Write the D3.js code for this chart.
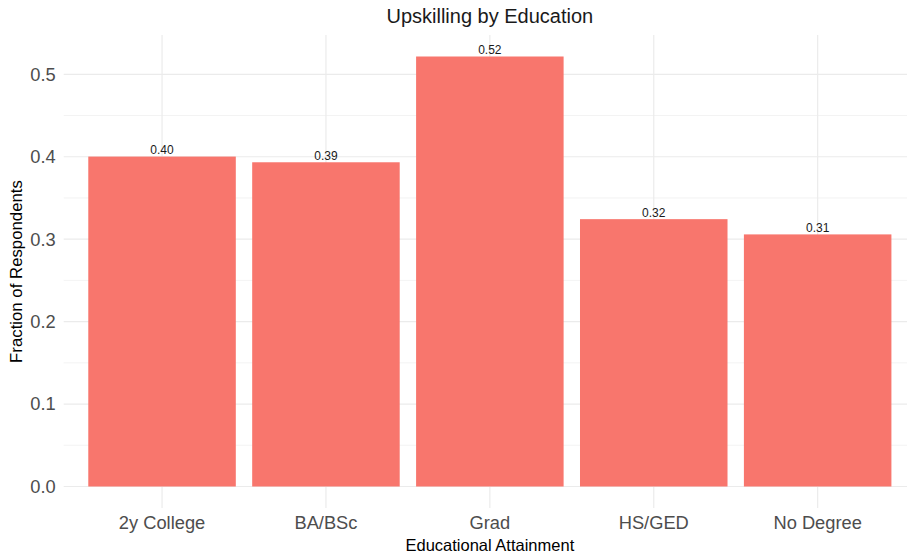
<!DOCTYPE html>
<html>
<head>
<meta charset="utf-8">
<script src="https://cdn.jsdelivr.net/npm/d3@7"></script>
<style>
  body { margin: 0; background: #fff; }
  text { font-family: "Liberation Sans", Arial, sans-serif; }
</style>
</head>
<body>
<div id="chart"></div>
<script>
// data
var categories = ["2y College", "BA/BSc", "Grad", "HS/GED", "No Degree"];
var fractions = [0.4002, 0.3933, 0.5216, 0.3243, 0.3058];
var yTicks = [0, 0.1, 0.2, 0.3, 0.4, 0.5];
var yMinor = [0.05, 0.15, 0.25, 0.35, 0.45];

var W = 907, H = 556;
var margin = {top: 35, right: -9, bottom: 48, left: 63.7},
    width = W - margin.left - margin.right,
    height = H - margin.top - margin.bottom;

var svg = d3.select("#chart")
  .append("svg")
    .attr("width", W)
    .attr("height", H)
  .append("g")
    .attr("transform", "translate(" + margin.left + "," + margin.top + ")");

var maxV = d3.max(fractions);
var pad = maxV * 0.05;

var x = d3.scaleBand()
    .domain(categories)
    .range([0, width])
    .paddingInner(0.1)
    .paddingOuter(0.15);

var y = d3.scaleLinear()
    .domain([-pad, maxV + pad])
    .range([height, 0]);

// grid
svg.selectAll(".minor")
  .data(yMinor)
  .enter().append("line")
    .attr("x1", 0).attr("x2", width)
    .attr("y1", function(d) { return y(d); })
    .attr("y2", function(d) { return y(d); })
    .attr("stroke", "#ebebeb")
    .attr("stroke-width", 0.6);

svg.selectAll(".major")
  .data(yTicks)
  .enter().append("line")
    .attr("x1", 0).attr("x2", width)
    .attr("y1", function(d) { return y(d); })
    .attr("y2", function(d) { return y(d); })
    .attr("stroke", "#ebebeb")
    .attr("stroke-width", 1.2);

svg.selectAll(".vgrid")
  .data(categories)
  .enter().append("line")
    .attr("x1", function(d) { return x(d) + x.bandwidth() / 2; })
    .attr("x2", function(d) { return x(d) + x.bandwidth() / 2; })
    .attr("y1", 0).attr("y2", height)
    .attr("stroke", "#ebebeb")
    .attr("stroke-width", 1.2);

// bars
svg.selectAll("rect")
  .data(fractions)
  .enter().append("rect")
    .attr("x", function(d, i) { return x(categories[i]); })
    .attr("y", function(d) { return y(d); })
    .attr("width", x.bandwidth())
    .attr("height", function(d) { return y(0) - y(d); })
    .style("fill", "#f8766d");

svg.selectAll(".lbl")
  .data(fractions)
  .enter().append("text")
    .attr("x", function(d, i) { return x(categories[i]) + x.bandwidth() / 2; })
    .attr("y", function(d) { return y(d) - 2.5; })
    .attr("text-anchor", "middle")
    .style("font-size", "12px")
    .style("fill", "#1a1a1a")
    .text(function(d) { return d3.format(".2f")(d); });

// axes
var yAxis = svg.append("g")
    .call(d3.axisLeft(y).tickValues(yTicks).tickFormat(d3.format(".1f")).tickSize(0).tickPadding(8));
yAxis.select(".domain").remove();
yAxis.selectAll("text")
    .style("font-size", "18.3px")
    .style("fill", "#4d4d4d");

var xAxis = svg.append("g")
    .attr("transform", "translate(0," + height + ")")
    .call(d3.axisBottom(x).tickSize(0).tickPadding(8.5));
xAxis.select(".domain").remove();
xAxis.selectAll("text")
    .style("font-size", "18.3px")
    .style("fill", "#4d4d4d");

// titles
svg.append("text")
  .attr("x", width / 2)
  .attr("y", -12)
  .attr("text-anchor", "middle")
  .style("font-size", "20px")
  .style("fill", "#1a1a1a")
  .text("Upskilling by Education");

svg.append("text")
  .attr("x", width / 2)
  .attr("y", height + 43)
  .attr("text-anchor", "middle")
  .style("font-size", "16.5px")
  .style("fill", "#000")
  .text("Educational Attainment");

svg.append("text")
  .attr("transform", "rotate(-90)")
  .attr("x", -height / 2)
  .attr("y", -41.5)
  .attr("text-anchor", "middle")
  .style("font-size", "16.8px")
  .style("fill", "#000")
  .text("Fraction of Respondents");
</script>
</body>
</html>
